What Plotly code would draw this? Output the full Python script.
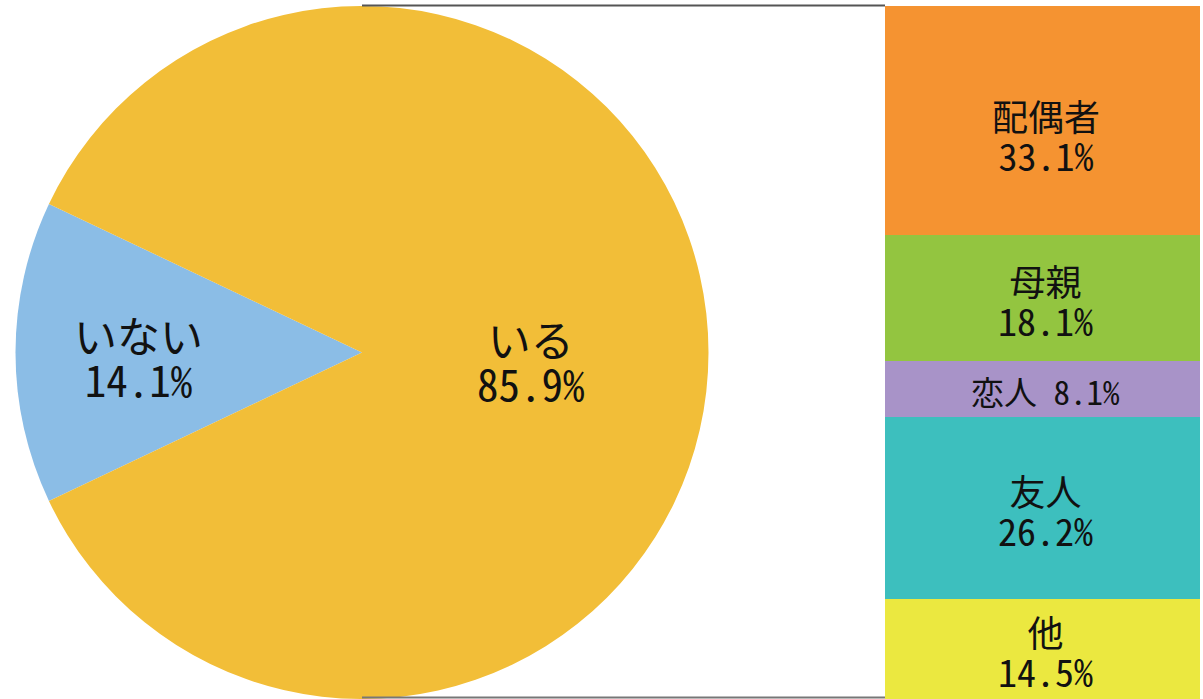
import plotly.graph_objects as go

W, H = 1203, 699

pie_labels = ["いない", "いる"]
pie_values = [14.1, 85.9]
pie_colors = ["#8BBDE6", "#F2BE38"]

bar_labels = ["配偶者", "母親", "恋人", "友人", "他"]
bar_values = [33.1, 18.1, 8.1, 26.2, 14.5]
bar_colors = ["#F59331", "#93C540", "#A893C8", "#3DBFBE", "#EBE840"]

FONT = "Noto Sans Mono CJK JP, Noto Sans CJK JP, sans-serif"
INK = "#111111"


def two_lines(a, b, size_a, size_b):
    return (f"<span style='font-size:{size_a}px'>{a}</span><br>"
            f"<span style='font-size:{size_b}px'>{b}</span>")


fig = go.Figure()

# pie geometry (pixels)
cx, cy, r = 362, 352.5, 346.5
start = 270 - pie_values[0] / 100 * 360 / 2

fig.add_trace(go.Pie(
    labels=pie_labels, values=pie_values, sort=False, direction="clockwise",
    rotation=start, marker=dict(colors=pie_colors, line=dict(width=0)),
    textinfo="none", hoverinfo="label+percent", showlegend=False,
    domain=dict(x=[(cx - r) / W, (cx + r) / W], y=[(H - cy - r) / H, (H - cy + r) / H]),
))

# stacked bar, top segment first in the lists -> drawn bottom to top
for lab, val, col in list(zip(bar_labels, bar_values, bar_colors))[::-1]:
    fig.add_trace(go.Bar(
        x=[0], y=[val], width=1, marker=dict(color=col, line=dict(width=0)),
        showlegend=False, xaxis="x", yaxis="y", name=lab,
        hovertemplate=f"{lab}: %{{y:.1f}}%<extra></extra>",
    ))

bar_top = 6
fig.update_layout(
    width=W, height=H, margin=dict(l=0, r=0, t=0, b=0),
    paper_bgcolor="white", plot_bgcolor="rgba(0,0,0,0)",
    barmode="stack", bargap=0,
    xaxis=dict(domain=[885 / W, 1200 / W], range=[-0.5, 0.5], visible=False, fixedrange=True),
    yaxis=dict(domain=[0, (H - bar_top) / H], range=[0, sum(bar_values)], visible=False, fixedrange=True),
    shapes=[
        dict(type="line", xref="paper", yref="paper", x0=cx / W, x1=885 / W,
             y0=(H - 5.5) / H, y1=(H - 5.5) / H, line=dict(color="#555555", width=2)),
        dict(type="line", xref="paper", yref="paper", x0=cx / W, x1=885 / W,
             y0=1.5 / H, y1=1.5 / H, line=dict(color="#777777", width=2)),
    ],
)

# pie labels (one text block each; base size sets the tight line spacing)
pie_text_pos = [(138, 356), (531, 359.5)]
for lab, val, (px, py) in zip(pie_labels, pie_values, pie_text_pos):
    fig.add_annotation(
        x=px / W, y=(H - py) / H, xref="paper", yref="paper", showarrow=False,
        text=two_lines(lab, f"{val:.1f}%", 43, 43), align="center",
        xanchor="center", yanchor="middle",
        font=dict(family=FONT, size=34, color=INK),
    )

# bar labels, placed at each segment's midpoint in data coordinates
top = sum(bar_values)
nudge = {0: -15}  # pixel shift of the top label; others default
for i, (lab, val) in enumerate(zip(bar_labels, bar_values)):
    mid = top - val / 2
    top -= val
    if val < 10:
        fig.add_annotation(
            x=0.01, y=mid, xref="x", yref="y", showarrow=False, yshift=-2,
            text=f"{lab} {val:.1f}%", xanchor="center", yanchor="middle",
            font=dict(family=FONT, size=33, color=INK),
        )
    else:
        fig.add_annotation(
            x=0.01, y=mid, xref="x", yref="y", showarrow=False, yshift=nudge.get(i, -2.5),
            text=two_lines(lab, f"{val:.1f}%", 36, 38), align="center",
            xanchor="center", yanchor="middle",
            font=dict(family=FONT, size=31, color=INK),
        )

fig.write_html(
    "out.html",
    config={"displayModeBar": False},
    post_script="document.body.style.margin='0';document.body.style.overflow='hidden';",
)
